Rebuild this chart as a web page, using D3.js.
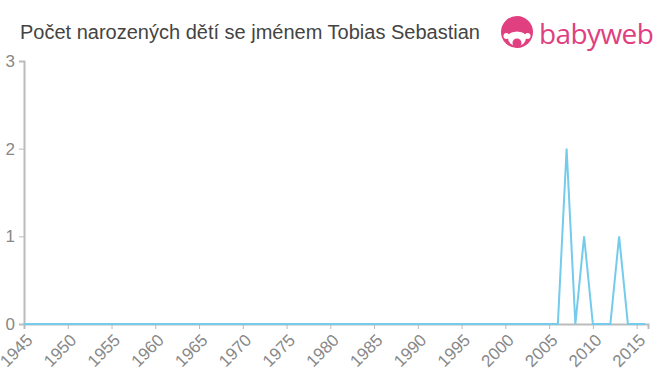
<!DOCTYPE html>
<html>
<head>
<meta charset="utf-8">
<script src="https://cdn.jsdelivr.net/npm/d3@7"></script>
<style>
  body { margin: 0; background: #fff; }
  svg { display: block; font-family: "Liberation Sans", Arial, sans-serif; }
</style>
</head>
<body>
<div id="chart"></div>
<script>
const years = d3.range(1945, 2017);
const counts = years.map(y => ({2007: 2, 2009: 1, 2013: 1}[y] || 0));
const yTicks = [0, 1, 2, 3];
const xTicks = d3.range(1945, 2016, 5);
const title = "Počet narozených dětí se jménem Tobias Sebastian";

const width = 660, height = 375;
const margin = { top: 61, right: 12, bottom: 51, left: 24 };

const svg = d3.select("#chart").append("svg")
  .attr("width", width)
  .attr("height", height);

const x = d3.scaleLinear()
  .domain([1945, 2016.3])
  .range([margin.left, width - margin.right]);

const y = d3.scaleLinear()
  .domain([0, 3])
  .range([height - margin.bottom, margin.top]);

// title
svg.append("text")
  .attr("x", 20)
  .attr("y", 39)
  .attr("fill", "#444")
  .attr("font-size", 20)
  .text(title);

// logo
const logo = svg.append("g").attr("transform", "translate(517,32)");
logo.append("circle").attr("r", 16).attr("fill", "#e0407f");
logo.append("ellipse").attr("cx", 0).attr("cy", 6).attr("rx", 9).attr("ry", 8).attr("fill", "#fff");
logo.append("circle").attr("cx", -10.5).attr("cy", 4).attr("r", 3).attr("fill", "#fff");
logo.append("circle").attr("cx", 10.5).attr("cy", 4).attr("r", 3).attr("fill", "#fff");
logo.append("circle").attr("cx", 0).attr("cy", 11).attr("r", 4.5).attr("fill", "#e0407f");
logo.append("path").attr("d", "M-9,-1 Q0,-7 9,-1 L9,2 Q0,-3 -9,2 Z").attr("fill", "#e0407f");
svg.append("text")
  .attr("x", 539)
  .attr("y", 44)
  .attr("fill", "#e0407f")
  .attr("font-size", 28)
  .attr("font-family", "'Open Sans', sans-serif")
  .attr("letter-spacing", -0.6)
  .text("babyweb");

// y axis
const yAxis = svg.append("g")
  .attr("transform", `translate(${margin.left},0)`)
  .call(d3.axisLeft(y).tickValues(yTicks).tickSize(5).tickPadding(4).tickFormat(d3.format("d")));
yAxis.select(".domain").attr("stroke", "#bbb").attr("stroke-width", 2);
yAxis.selectAll(".tick line").attr("stroke", "#bbb");
yAxis.selectAll(".tick text").attr("fill", "#888").attr("font-size", 17)
  .attr("font-family", "'Liberation Sans', Arial, sans-serif");

// x axis
const xAxis = svg.append("g")
  .attr("transform", `translate(0,${height - margin.bottom})`)
  .call(d3.axisBottom(x).tickValues(xTicks).tickSize(5).tickFormat(d3.format("d")));
xAxis.select(".domain").attr("stroke", "#bbb").attr("stroke-width", 2);
xAxis.selectAll(".tick line").attr("stroke", "#bbb");
xAxis.selectAll(".tick text")
  .attr("fill", "#888")
  .attr("font-size", 17)
  .attr("font-family", "'Liberation Sans', Arial, sans-serif")
  .attr("text-anchor", "end")
  .attr("dy", "0.35em")
  .attr("transform", "translate(5,13) rotate(-45)")
  .attr("y", 0)
  .attr("x", 0);

// line
const line = d3.line()
  .x((d, i) => x(years[i]))
  .y(d => y(d));

svg.append("path")
  .datum(counts)
  .attr("fill", "none")
  .attr("stroke", "#74cbec")
  .attr("stroke-width", 2)
  .attr("d", line);
</script>
</body>
</html>
